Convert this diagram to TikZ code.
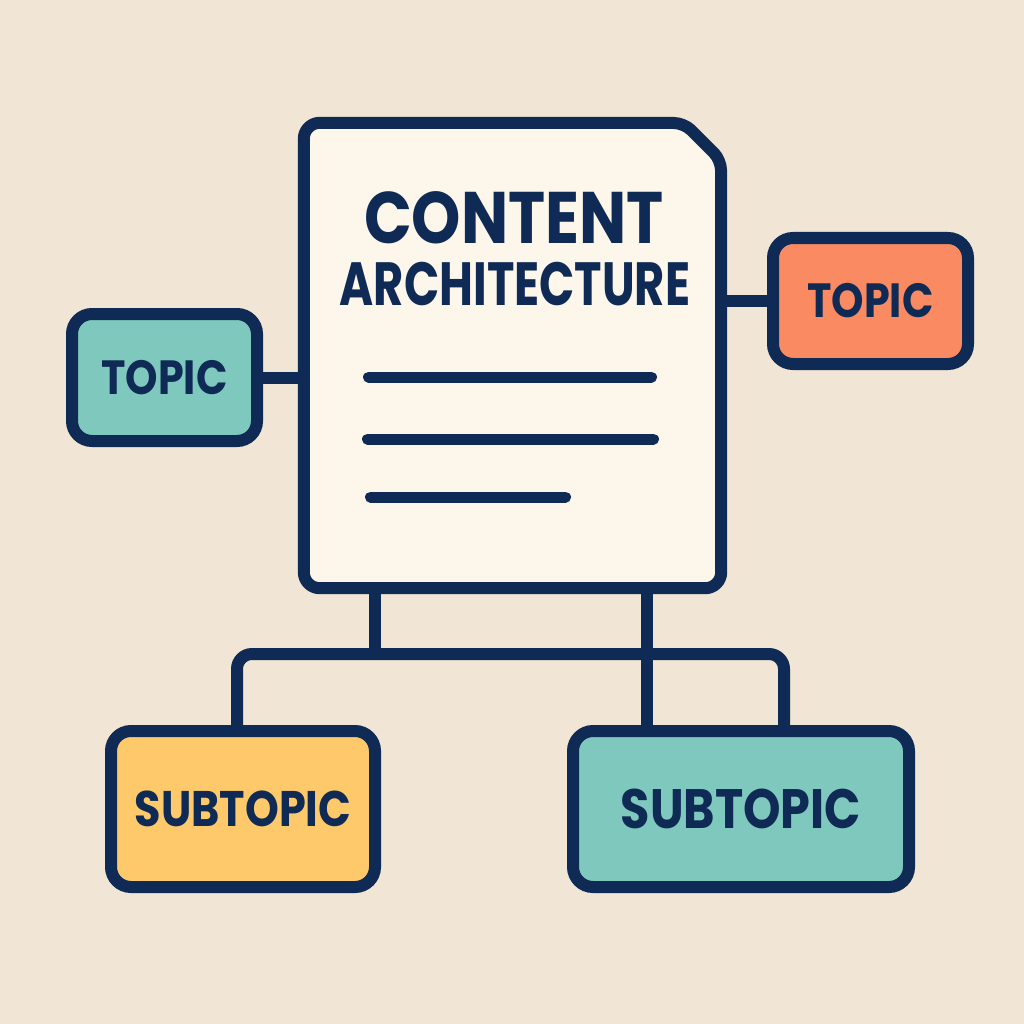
\documentclass[tikz,border=0pt]{standalone}
\usepackage{fontspec}
\newfontfamily\hd{Poppins}[FakeStretch=0.86]
\newfontfamily\hdn{Poppins}[FakeStretch=0.76]
\usetikzlibrary{calc}
\definecolor{bgc}{HTML}{F1E5D5}
\definecolor{card}{HTML}{FDF6EB}
\definecolor{navy}{HTML}{0F2B55}
\definecolor{tealc}{HTML}{7FC8BE}
\definecolor{orangec}{HTML}{FA8A62}
\definecolor{yellowc}{HTML}{FEC96A}
\pgfdeclarelayer{back}
\pgfdeclarelayer{wires}
\pgfsetlayers{back,wires,main}
\tikzset{
  box/.style={draw=navy, line width=12pt, rounded corners=20pt, inner sep=0pt, text=navy, font=\hd\bfseries\fontsize{48}{50}\selectfont},
  wire/.style={draw=navy, line width=12pt},
  textline/.style={draw=navy, line width=11pt, line cap=round},
}
\begin{document}
\begin{tikzpicture}[x=1pt,y=-1pt]
\begin{pgfonlayer}{back}
\fill[bgc] (0,0) rectangle (1024,1024);
\end{pgfonlayer}
\useasboundingbox (0,0) rectangle (1024,1024);
% document card
\node[minimum width=417pt, minimum height=465pt, inner sep=0pt] (doc) at (512.5,355.5) {};
\filldraw[fill=card, draw=navy, line width=12pt, line join=round]
  (doc.west) [rounded corners=16pt] -- (doc.north west) [rounded corners=10pt] -- (684,123) -- (721,160) [rounded corners=16pt] -- (doc.south east) -- (doc.south west) -- cycle;
\node[text=navy, font=\hd\bfseries\fontsize{73}{75}\selectfont, inner sep=0pt] (t1) at (514,218) {CONTENT};
\node[text=navy, font=\hdn\bfseries\fontsize{61}{63}\selectfont, inner sep=0pt] (t2) at (515,284) {ARCHITECTURE};
\draw[textline] (368.5,377) -- (651.5,377);
\draw[textline] (367.5,439) -- (653.5,439);
\draw[textline] (370.5,497) -- (565.5,497);
% topics
\node[box, fill=tealc, minimum width=185pt, minimum height=127pt] (ltopic) at (164.5,377.5) {TOPIC};
\node[box, fill=orangec, minimum width=195pt, minimum height=126pt] (rtopic) at (870.5,301) {TOPIC};
% subtopics
\node[box, fill=yellowc, minimum width=264pt, minimum height=156pt, font=\hd\bfseries\fontsize{50}{52}\selectfont] (lsub) at (243,809) {SUBTOPIC};
\node[box, fill=tealc, minimum width=336pt, minimum height=156pt, font=\hd\bfseries\fontsize{55.5}{57}\selectfont] (rsub) at (741,809) {SUBTOPIC};
% connectors
\begin{pgfonlayer}{wires}
\draw[wire] (ltopic.east) -- (ltopic.east -| doc.west);
\draw[wire] (rtopic.west) -- (rtopic.west -| doc.east);
\coordinate (bus) at (0,654);
\draw[wire] ([xshift=-137.5pt]doc.south) -- ([xshift=-137.5pt]doc.south |- bus);
\draw[wire] ([xshift=134.5pt]doc.south) -- ([xshift=134.5pt]doc.south |- rsub.north);
\draw[wire, rounded corners=15pt] ([xshift=-6pt]lsub.north) |- ([xshift=43pt]rsub.north |- bus) -- ([xshift=43pt]rsub.north);
\end{pgfonlayer}
\end{tikzpicture}
\end{document}
